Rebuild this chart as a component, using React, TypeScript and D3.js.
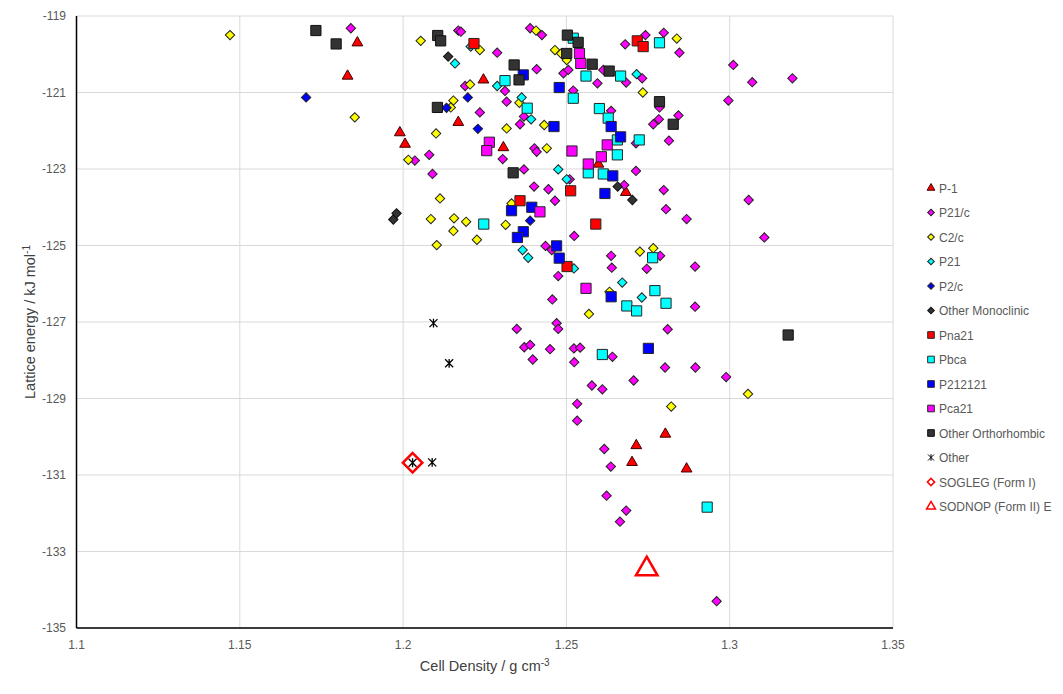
import { useEffect, useRef } from 'react';
import * as d3 from 'd3';

type Pt = [number, number];

// axis ticks
const xTicks = [1.1, 1.15, 1.2, 1.25, 1.3, 1.35];
const yTicks = [-119, -121, -123, -125, -127, -129, -131, -133, -135];

// [cell density g/cm3, lattice energy kJ/mol]
const p1Data: Pt[] = [
  [1.186, -119.7], [1.183, -120.57], [1.199, -122.05], [1.2006, -122.35], [1.2169, -121.78],
  [1.2246, -120.67], [1.2307, -122.44], [1.2598, -122.87], [1.2682, -123.61], [1.2803, -129.93],
  [1.2714, -130.23], [1.2701, -130.67], [1.2868, -130.84]
];

const p21cData: Pt[] = [
  [1.184, -119.32], [1.2169, -119.38], [1.2177, -119.41], [1.2288, -119.96], [1.2389, -119.32],
  [1.2425, -119.5], [1.2409, -120.39], [1.219, -120.83], [1.2312, -120.96], [1.2235, -121.52],
  [1.2317, -121.24], [1.237, -121.63], [1.2358, -121.83], [1.2402, -122.46], [1.2409, -122.55],
  [1.2036, -122.78], [1.208, -122.63], [1.2305, -122.74], [1.209, -123.13], [1.237, -123.01],
  [1.268, -119.74], [1.2742, -119.5], [1.2798, -119.44], [1.2846, -119.96], [1.2491, -120.5],
  [1.2506, -120.41], [1.2595, -120.76], [1.2613, -120.41], [1.2683, -120.74], [1.2732, -120.63],
  [1.2521, -120.95], [1.2785, -121.39], [1.2843, -121.6], [1.2783, -121.7], [1.2766, -121.83],
  [1.2814, -122.26], [1.2637, -121.48], [1.2713, -122.33], [1.2713, -123.05], [1.251, -123.27],
  [1.2677, -123.42], [1.2798, -123.55], [1.2805, -124.05], [1.2868, -124.31], [1.2401, -123.46],
  [1.2445, -123.53], [1.2465, -123.83], [1.2436, -125.01], [1.2455, -125.12], [1.2475, -125.8],
  [1.2457, -126.41], [1.2348, -127.18], [1.247, -127.03], [1.2475, -127.18], [1.2524, -124.75],
  [1.2637, -125.27], [1.2639, -125.58], [1.2787, -125.27], [1.2746, -125.61], [1.2894, -125.55],
  [1.2894, -126.6], [1.281, -127.19], [1.3011, -120.28], [1.3069, -120.73], [1.3192, -120.63],
  [1.2996, -121.21], [1.3058, -123.81], [1.3106, -124.79], [1.2371, -127.66], [1.2389, -127.6],
  [1.245, -127.71], [1.2397, -127.98], [1.2523, -127.69], [1.2542, -127.67], [1.2641, -127.91],
  [1.2524, -128.05], [1.2802, -128.19], [1.2895, -128.19], [1.2706, -128.53], [1.2578, -128.66],
  [1.261, -128.76], [1.2533, -129.14], [1.2533, -129.58], [1.2616, -130.32], [1.2636, -130.78],
  [1.2623, -131.54], [1.2683, -131.93], [1.2664, -132.22], [1.2989, -128.44], [1.296, -134.3]
];

const c2cData: Pt[] = [
  [1.147, -119.5], [1.1852, -121.65], [1.2054, -119.65], [1.2235, -119.89], [1.2407, -119.38],
  [1.2465, -119.89], [1.2484, -119.98], [1.2501, -120.15], [1.2205, -120.79], [1.2154, -121.21],
  [1.2146, -121.39], [1.2356, -121.27], [1.2432, -121.85], [1.2317, -121.94], [1.2101, -122.07],
  [1.244, -122.46], [1.2016, -122.76], [1.2734, -121.0], [1.2838, -119.59], [1.2113, -123.77],
  [1.2085, -124.31], [1.2156, -124.29], [1.2193, -124.38], [1.2154, -124.62], [1.2226, -124.85],
  [1.2103, -124.99], [1.2314, -124.46], [1.2332, -123.9], [1.2725, -125.16], [1.2766, -125.07],
  [1.2632, -126.21], [1.2569, -126.79], [1.2821, -129.21], [1.3056, -128.88]
];

const p21Data: Pt[] = [
  [1.2207, -119.8], [1.2159, -120.24], [1.2288, -120.83], [1.2363, -121.13], [1.2392, -121.7],
  [1.2475, -123.01], [1.2715, -120.52], [1.2501, -123.27], [1.2523, -125.6], [1.2366, -125.12],
  [1.2383, -125.32], [1.2671, -125.97], [1.2731, -126.36]
];

const p2cData: Pt[] = [
  [1.1703, -121.13], [1.2133, -121.4], [1.2198, -121.13], [1.2229, -121.95], [1.2389, -124.35]
];

const otherMonoData: Pt[] = [
  [1.197, -124.32], [1.198, -124.16], [1.2138, -120.06], [1.2657, -123.46], [1.2702, -123.81]
];

const pna21Data: Pt[] = [
  [1.2217, -119.72], [1.2717, -119.65], [1.2735, -119.8], [1.2358, -123.83], [1.2513, -123.57],
  [1.259, -124.44], [1.2502, -125.55]
];

const pbcaData: Pt[] = [
  [1.2521, -119.58], [1.2312, -120.69], [1.238, -121.41], [1.256, -120.57], [1.2666, -120.57],
  [1.2785, -119.7], [1.2521, -121.15], [1.2601, -121.42], [1.2628, -121.67], [1.2656, -122.24],
  [1.2723, -122.24], [1.2656, -122.63], [1.2567, -123.1], [1.2613, -123.13], [1.2247, -124.44],
  [1.2764, -125.32], [1.2771, -126.18], [1.2685, -126.58], [1.2715, -126.71], [1.2805, -126.51],
  [1.261, -127.85], [1.2931, -131.84]
];

const p212121Data: Pt[] = [
  [1.2368, -120.54], [1.2478, -120.87], [1.2462, -121.89], [1.2637, -121.89], [1.2666, -122.16],
  [1.2642, -123.18], [1.2618, -123.64], [1.2332, -124.09], [1.2394, -124.0], [1.2368, -124.64],
  [1.235, -124.79], [1.247, -125.01], [1.2478, -125.33], [1.2637, -126.34], [1.2751, -127.69]
];

const pca21Data: Pt[] = [
  [1.254, -119.98], [1.2544, -120.24], [1.2264, -122.3], [1.2256, -122.52], [1.2625, -122.37],
  [1.2607, -122.68], [1.2517, -122.53], [1.2567, -122.87], [1.2419, -124.12], [1.256, -126.12]
];

const otherOrthoData: Pt[] = [
  [1.1733, -119.38], [1.1795, -119.73], [1.2106, -119.51], [1.2115, -119.65], [1.234, -120.28],
  [1.2355, -120.67], [1.2105, -121.39], [1.2337, -123.1], [1.2503, -119.5], [1.2536, -119.69],
  [1.2501, -119.98], [1.2579, -120.26], [1.2631, -120.44], [1.2785, -121.24], [1.2827, -121.83],
  [1.3179, -127.34]
];

const otherData: Pt[] = [
  [1.2093, -127.03], [1.2141, -128.08], [1.2029, -130.68], [1.2089, -130.67]
];

const soglegData: Pt[] = [[1.2029, -130.68]];
const sodnopData: Pt[] = [[1.2746, -133.46]];

type Shape = 'triangle' | 'diamond' | 'square' | 'asterisk';

interface Series {
  name: string;
  data: Pt[];
  shape: Shape;
  fill: string;
  stroke: string;
  size: number;
  legendSize: number;
  strokeWidth?: number;
}

const series: Series[] = [
  { name: 'P-1', data: p1Data, shape: 'triangle', fill: '#ff0000', stroke: '#3a0000', size: 50, legendSize: 26 },
  { name: 'P21/c', data: p21cData, shape: 'diamond', fill: '#ff00ff', stroke: '#222', size: 44, legendSize: 22 },
  { name: 'C2/c', data: c2cData, shape: 'diamond', fill: '#ffff00', stroke: '#222', size: 44, legendSize: 22 },
  { name: 'P21', data: p21Data, shape: 'diamond', fill: '#00ffff', stroke: '#222', size: 44, legendSize: 22 },
  { name: 'P2/c', data: p2cData, shape: 'diamond', fill: '#0000ff', stroke: '#222', size: 44, legendSize: 22 },
  { name: 'Other Monoclinic', data: otherMonoData, shape: 'diamond', fill: '#333333', stroke: '#111', size: 44, legendSize: 22 },
  { name: 'Pna21', data: pna21Data, shape: 'square', fill: '#ff0000', stroke: '#262626', size: 104, legendSize: 44 },
  { name: 'Pbca', data: pbcaData, shape: 'square', fill: '#00ffff', stroke: '#262626', size: 104, legendSize: 44 },
  { name: 'P212121', data: p212121Data, shape: 'square', fill: '#0000ff', stroke: '#262626', size: 104, legendSize: 44 },
  { name: 'Pca21', data: pca21Data, shape: 'square', fill: '#ff00ff', stroke: '#262626', size: 104, legendSize: 44 },
  { name: 'Other Orthorhombic', data: otherOrthoData, shape: 'square', fill: '#333333', stroke: '#111', size: 104, legendSize: 44 },
  { name: 'Other', data: otherData, shape: 'asterisk', fill: 'none', stroke: '#000', size: 64, legendSize: 36 },
  { name: 'SOGLEG (Form I)', data: soglegData, shape: 'diamond', fill: 'none', stroke: '#ff0000', size: 190, legendSize: 26, strokeWidth: 2.5 },
  { name: 'SODNOP (Form II) E', data: sodnopData, shape: 'triangle', fill: 'none', stroke: '#ff0000', size: 200, legendSize: 34, strokeWidth: 2.5 }
];

function shapePath(shape: Shape, size: number): string {
  if (shape === 'triangle') return d3.symbol(d3.symbolTriangle, size)() as string;
  if (shape === 'asterisk') {
    const r = Math.sqrt(size) / 2;
    return `M${-r},${-r}L${r},${r}M${-r},${r}L${r},${-r}M0,${-r * 1.1}L0,${r * 1.1}`;
  }
  return d3.symbol(d3.symbolSquare, size)() as string;
}

const WIDTH = 1063;
const HEIGHT = 694;
const FONT = '"Liberation Sans", Arial, sans-serif';

export default function App() {
  const svgRef = useRef<SVGSVGElement>(null);

  useEffect(() => {
    if (!svgRef.current) return;
    const svg = d3.select(svgRef.current);
    svg.selectAll('*').remove();

    const margin = { left: 76.5, right: 893, top: 16, bottom: 628 };

    const x = d3.scaleLinear().domain([1.1, 1.35]).range([margin.left, margin.right]);
    const y = d3.scaleLinear().domain([-135, -119]).range([margin.bottom, margin.top]);

    // background
    svg.append('rect')
      .attr('x', 0).attr('y', 0)
      .attr('width', WIDTH).attr('height', HEIGHT)
      .attr('fill', '#fff');

    // grid
    const grid = svg.append('g');
    grid.selectAll('.hg')
      .data(yTicks)
      .enter()
      .append('line')
      .attr('x1', margin.left).attr('x2', margin.right)
      .attr('y1', d => y(d)).attr('y2', d => y(d))
      .attr('stroke', '#d9d9d9').attr('stroke-width', 1);
    grid.selectAll('.vg')
      .data(xTicks)
      .enter()
      .append('line')
      .attr('x1', d => x(d)).attr('x2', d => x(d))
      .attr('y1', margin.top).attr('y2', margin.bottom)
      .attr('stroke', '#d9d9d9').attr('stroke-width', 1);

    // axes lines
    svg.append('line')
      .attr('x1', margin.left).attr('x2', margin.left)
      .attr('y1', margin.top).attr('y2', margin.bottom)
      .attr('stroke', '#000').attr('stroke-width', 1.5);
    svg.append('line')
      .attr('x1', margin.left).attr('x2', margin.right)
      .attr('y1', margin.bottom).attr('y2', margin.bottom)
      .attr('stroke', '#000').attr('stroke-width', 1.5);

    // tick labels
    svg.append('g')
      .selectAll('text')
      .data(yTicks)
      .enter()
      .append('text')
      .attr('x', 66)
      .attr('y', d => y(d) + 4)
      .attr('text-anchor', 'end')
      .attr('fill', '#595959')
      .attr('font-family', FONT)
      .attr('font-size', '12px')
      .text(d => String(d));

    svg.append('g')
      .selectAll('text')
      .data(xTicks)
      .enter()
      .append('text')
      .attr('x', d => x(d))
      .attr('y', 649)
      .attr('text-anchor', 'middle')
      .attr('fill', '#595959')
      .attr('font-family', FONT)
      .attr('font-size', '12px')
      .text(d => String(d));

    // axis titles
    const yTitle = svg.append('text')
      .attr('transform', `translate(35, ${(margin.top + margin.bottom) / 2}) rotate(-90)`)
      .attr('text-anchor', 'middle')
      .attr('fill', '#404040')
      .attr('font-family', FONT)
      .attr('font-size', '14.5px');
    yTitle.append('tspan').text('Lattice energy / kJ mol');
    yTitle.append('tspan').attr('dy', -5).attr('font-size', '10px').text('-1');

    const xTitle = svg.append('text')
      .attr('x', (margin.left + margin.right) / 2)
      .attr('y', 671)
      .attr('text-anchor', 'middle')
      .attr('fill', '#404040')
      .attr('font-family', FONT)
      .attr('font-size', '14.5px');
    xTitle.append('tspan').text('Cell Density / g cm');
    xTitle.append('tspan').attr('dy', -5).attr('font-size', '10px').text('-3');

    // markers, drawn in series order so later series sit on top
    series.forEach(s => {
      const path = shapePath(s.shape, s.size);
      svg.append('g')
        .selectAll('path')
        .data(s.data)
        .enter()
        .append('path')
        .attr('d', path)
        .attr('transform', d => `translate(${x(d[0])},${y(d[1])})${s.shape === 'diamond' ? ' rotate(45)' : ''}`)
        .attr('fill', s.fill)
        .attr('stroke', s.stroke)
        .attr('stroke-width', s.strokeWidth ?? (s.shape === 'asterisk' ? 1.3 : 1));
    });

    // legend
    const legend = svg.append('g').attr('transform', 'translate(931, 188)');
    series.forEach((s, i) => {
      const row = legend.append('g').attr('transform', `translate(0, ${i * 24.5})`);
      row.append('path')
        .attr('d', shapePath(s.shape, s.legendSize))
        .attr('transform', s.shape === 'diamond' ? 'rotate(45)' : null)
        .attr('fill', s.fill)
        .attr('stroke', s.stroke)
        .attr('stroke-width', s.strokeWidth ? 1.5 : 1);
      row.append('text')
        .attr('x', 8)
        .attr('y', 4.5)
        .attr('fill', '#595959')
        .attr('font-family', FONT)
        .attr('font-size', '12px')
        .text(s.name);
    });
  }, []);

  return (
    <div style={{ position: 'absolute', left: 0, top: 0, width: WIDTH, height: HEIGHT }}>
      <svg ref={svgRef} width={WIDTH} height={HEIGHT} style={{ display: 'block' }} />
    </div>
  );
}
